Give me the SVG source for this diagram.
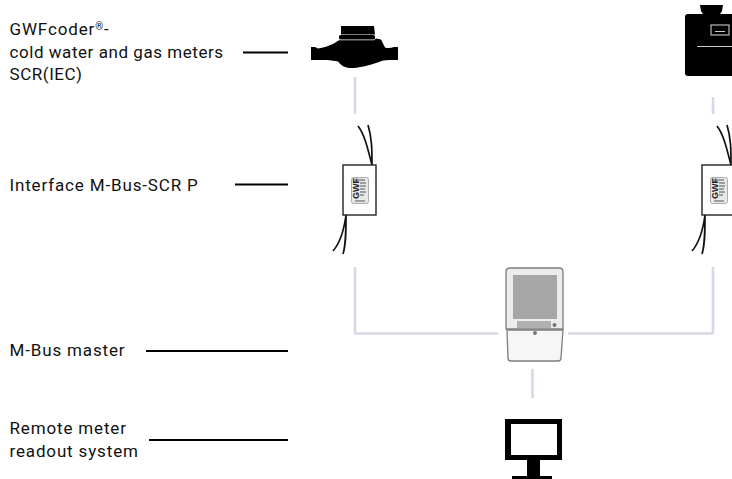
<svg xmlns="http://www.w3.org/2000/svg" width="732" height="479" viewBox="0 0 732 479">
<defs>
<style>
.t{font-family:"Roboto","Liberation Sans",sans-serif;font-size:17px;fill:#111;letter-spacing:.55px}
.w{letter-spacing:.85px}
.lead{stroke:#000;stroke-width:2;fill:none}
.bus{stroke:#d6d8e8;stroke-width:2.6;fill:none}
.wire{stroke:#111;stroke-width:1.7;fill:none}
.box{fill:#fff;stroke:#222;stroke-width:1.4}
.lab{fill:#e8e8e8;stroke:#999;stroke-width:.8}
.gwf{font-family:"Liberation Sans",sans-serif;font-weight:700;font-size:9px;fill:#222}
</style>
<g id="iface">
<path class="wire" d="M372 165C368 150 365 135 358 126M372 165C372 150 372 138 368 125M346 215C344 230 340 243 333 251M346 215C346 232 346 244 343 254"/>
<rect class="box" x="343" y="165" width="33" height="50"/>
<rect class="lab" x="351.500" y="177.500" width="17" height="26" rx="2"/>
<text class="gwf" transform="translate(358.500 199) rotate(-90)">GWF</text>
<path d="M360 183h6M360 186h6M360 189h5M360 192h6M360 195h4M354 180h11M355 201h10" stroke="#555" stroke-width="1" fill="none"/>
</g>
</defs>
<rect width="732" height="479" fill="#fff"/>
<g id="connectors">
<path class="bus" d="M355 77V114M355 267V333.500H498M568 333.500H713M713 267V333.500M713 97V114M532.500 369V398"/>
<path class="lead" d="M243 52.500H288M235 184.500H288M146 351H288M149 440H288"/>
</g>
<g id="labels">
<text class="t w" x="9.500" y="35">GWFcoder<tspan font-size="10" dy="-5">®</tspan><tspan dy="5">-</tspan></text>
<text class="t" x="9.500" y="58">cold water and gas meters</text>
<text class="t" x="9.500" y="80">SCR(IEC)</text>
<text class="t w" x="9.500" y="191">Interface M-Bus-SCR P</text>
<text class="t w" x="9.500" y="356">M-Bus master</text>
<text class="t w" x="9.500" y="434">Remote meter</text>
<text class="t w" x="9.500" y="457">readout system</text>
</g>
<g id="water-meter">
<path d="M341 26H374L375 34.500H341Z" fill="#000"/>
<rect x="339" y="35" width="36" height="4.500" rx="1.500" fill="#000"/>
<path d="M311 47H315L318 48.500C326 47.500 334 44 339 40.300H374L376 38.500 381 39.500 383 43.500 385 47.500C388 48.500 391 48 394 47H398V60H394C388 60 383 60 379 62 368 66 356 68.500 349 68 344 67.500 341 65 338 61.500 332 60 322 60 315 60H311Z" fill="#000"/>
</g>
<g id="gas-meter">
<path d="M700 5H723L722 11 720 14H703L701 11Z" fill="#000"/>
<rect x="685" y="14" width="60" height="62" rx="3" fill="#000"/>
<rect x="711" y="25" width="18" height="10" fill="#000" stroke="#ddd" stroke-width="1"/>
<path d="M715 31.500H725M697 46.500H732" stroke="#ccc" stroke-width="1" fill="none"/>
</g>
<g id="interface-left"><use href="#iface"/></g>
<g id="interface-right"><use href="#iface" x="359"/></g>
<g id="master">
<path d="M506 329V272Q506 268 510 268H559Q563 268 563 272V329Z" fill="#ececec" stroke="#7d7d7d" stroke-width="1.300"/>
<path d="M507 330H563L561 358Q561 361 558 361H511Q508 361 508 358Z" fill="#f6f6f6" stroke="#7d7d7d" stroke-width="1.300"/>
<rect x="513" y="275" width="44" height="44" fill="#a6a6a6"/>
<rect x="517" y="321" width="34" height="7" fill="#b0b0b0"/>
<circle cx="554.500" cy="325" r="2" fill="#777"/>
<circle cx="535" cy="333" r="2" fill="#777"/>
</g>
<g id="remote-system">
<path fill-rule="evenodd" d="M505 419H562V460H540V476H552V479H512V476H527V460H505ZM511 424V455H557V424Z" fill="#000"/>
</g>
</svg>
